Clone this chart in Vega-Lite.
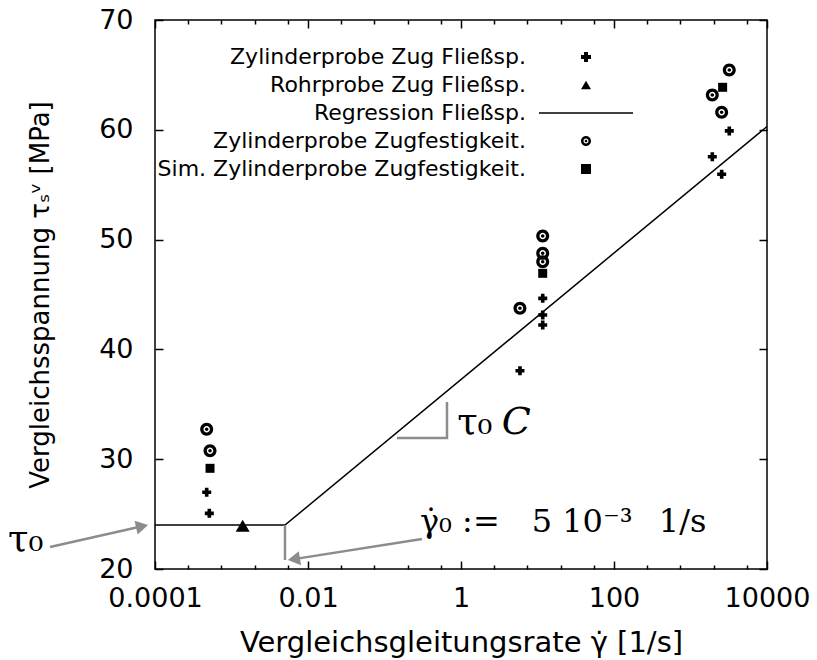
{
  "$schema": "https://vega.github.io/schema/vega-lite/v6.json",
  "width": 612,
  "height": 549,
  "autosize": {"type": "none"},
  "padding": {"left": 155, "top": 20, "right": 50, "bottom": 91},
  "background": "white",
  "config": {
    "view": {"stroke": "black", "strokeWidth": 1.5},
    "font": "DejaVu Sans",
    "axis": {
      "domain": false, "grid": false, "tickColor": "black", "tickWidth": 1.5,
      "labelFont": "DejaVu Sans", "labelFontSize": 27, "labelColor": "black",
      "titleFont": "DejaVu Sans", "titleFontWeight": "normal", "titleColor": "black", "titleFontSize": 29
    }
  },
  "datasets": {
    "pts": [
      {"series": "Zylinderprobe Zug Fließsp.", "rate": 0.000474, "stress": 26.99},
      {"series": "Zylinderprobe Zug Fließsp.", "rate": 0.000513, "stress": 25.07},
      {"series": "Zylinderprobe Zug Fließsp.", "rate": 11.7, "stress": 44.65},
      {"series": "Zylinderprobe Zug Fließsp.", "rate": 11.7, "stress": 43.13},
      {"series": "Zylinderprobe Zug Fließsp.", "rate": 11.7, "stress": 42.22},
      {"series": "Zylinderprobe Zug Fließsp.", "rate": 5.9, "stress": 38.06},
      {"series": "Zylinderprobe Zug Fließsp.", "rate": 3214, "stress": 59.9},
      {"series": "Zylinderprobe Zug Fließsp.", "rate": 1928, "stress": 57.55},
      {"series": "Zylinderprobe Zug Fließsp.", "rate": 2555, "stress": 55.95},
      {"series": "Rohrprobe Zug Fließsp.", "rate": 0.0014, "stress": 23.94},
      {"series": "Zylinderprobe Zugfestigkeit.", "rate": 0.000474, "stress": 32.72},
      {"series": "Zylinderprobe Zugfestigkeit.", "rate": 0.000524, "stress": 30.77},
      {"series": "Zylinderprobe Zugfestigkeit.", "rate": 11.7, "stress": 50.33},
      {"series": "Zylinderprobe Zugfestigkeit.", "rate": 11.7, "stress": 48.75},
      {"series": "Zylinderprobe Zugfestigkeit.", "rate": 11.7, "stress": 47.99},
      {"series": "Zylinderprobe Zugfestigkeit.", "rate": 5.9, "stress": 43.74},
      {"series": "Zylinderprobe Zugfestigkeit.", "rate": 3214, "stress": 65.45},
      {"series": "Zylinderprobe Zugfestigkeit.", "rate": 1928, "stress": 63.17},
      {"series": "Zylinderprobe Zugfestigkeit.", "rate": 2555, "stress": 61.6},
      {"series": "Sim. Zylinderprobe Zugfestigkeit.", "rate": 0.000524, "stress": 29.17},
      {"series": "Sim. Zylinderprobe Zugfestigkeit.", "rate": 11.7, "stress": 46.93},
      {"series": "Sim. Zylinderprobe Zugfestigkeit.", "rate": 2630, "stress": 63.87}
    ],
    "regression": [
      {"rate": 0.0001, "stress": 24},
      {"rate": 0.005, "stress": 24},
      {"rate": 10000, "stress": 60.3}
    ],
    "guides": [
      {"part": "vline", "i": 1, "rate": 0.005, "stress": 24},
      {"part": "vline", "i": 2, "rate": 0.005, "stress": 20.82},
      {"part": "slope", "i": 1, "rate": 0.1456, "stress": 31.93},
      {"part": "slope", "i": 2, "rate": 0.656, "stress": 31.93},
      {"part": "slope", "i": 3, "rate": 0.656, "stress": 35.2},
      {"part": "arrow1", "i": 1, "rate": 0.00000424, "stress": 22.0},
      {"part": "arrow1", "i": 2, "rate": 0.0000678, "stress": 23.89},
      {"part": "arrow2", "i": 1, "rate": 0.309, "stress": 22.73},
      {"part": "arrow2", "i": 2, "rate": 0.00654, "stress": 20.9}
    ],
    "heads": [
      {"part": "arrow1", "rate": 0.0000678, "stress": 23.89},
      {"part": "arrow2", "rate": 0.00654, "stress": 20.9}
    ],
    "notes": [
      {"label": "τ₀", "rate": 0.89, "stress": 33.3},
      {"label": "τ₀", "rate": 0.0000012, "stress": 22.64}
    ],
    "notesC": [
      {"label": "C", "rate": 3.4, "stress": 33.3}
    ],
    "notes2": [
      {"label": "γ̇₀ :=\u20035 10⁻³\u2002 1/s", "rate": 0.291, "stress": 24.28}
    ]
  },
  "resolve": {"axis": {"x": "independent", "y": "independent"}},
  "layer": [
    {
      "data": {"name": "pts"},
      "transform": [{"filter": "datum.series === 'Zylinderprobe Zug Fließsp.'"}],
      "mark": {"type": "point", "filled": true, "opacity": 1, "color": "black", "size": 81},
      "encoding": {
        "x": {
          "field": "rate", "type": "quantitative",
          "scale": {"type": "log", "domain": [0.0001, 10000], "nice": false},
          "axis": {
            "orient": "bottom", "values": [0.0001, 0.01, 1, 100, 10000], "format": "~g",
            "ticks": false, "labelPadding": 16, "labelFlush": false,
            "title": "Vergleichsgleitungsrate γ̇  [1/s]", "titlePadding": 17
          }
        },
        "y": {
          "field": "stress", "type": "quantitative",
          "scale": {"domain": [20, 70], "nice": false, "zero": false},
          "axis": {
            "orient": "left", "values": [20, 30, 40, 50, 60, 70],
            "ticks": false, "labelPadding": 22, "labelFlush": false,
            "title": "Vergleichsspannung τₛᵛ [MPa]", "titleFontSize": 26, "titlePadding": 45
          }
        },
        "shape": {
          "field": "series", "type": "nominal",
          "scale": {
            "domain": ["Zylinderprobe Zug Fließsp.", "Rohrprobe Zug Fließsp.", "Regression Fließsp.", "Zylinderprobe Zugfestigkeit.", "Sim. Zylinderprobe Zugfestigkeit."],
            "range": ["cross", "triangle-up", "M-9.4,-0.15L9.4,-0.15L9.4,0.15L-9.4,0.15Z", "M1,0A1,1 0 1,1 -1,0A1,1 0 1,1 1,0ZM0.5,0A0.5,0.5 0 1,0 -0.5,0A0.5,0.5 0 1,0 0.5,0ZM0.27,0A0.27,0.27 0 1,1 -0.27,0A0.27,0.27 0 1,1 0.27,0Z", "square"]
          },
          "legend": {
            "title": null, "orient": "none", "legendX": 420, "legendY": 26,
            "labelAlign": "right", "labelOffset": -71, "labelFontSize": 22, "labelFont": "DejaVu Sans",
            "labelColor": "black", "labelLimit": 500, "symbolSize": 100, "rowPadding": 6, "padding": 0,
            "symbolFillColor": "black", "symbolStrokeWidth": 0, "symbolOpacity": 1
          }
        }
      }
    },
    {
      "data": {"name": "pts"},
      "transform": [{"filter": "datum.series === 'Rohrprobe Zug Fließsp.'"}],
      "mark": {"type": "point", "filled": true, "opacity": 1, "color": "black", "size": 196},
      "encoding": {
        "x": {"field": "rate", "type": "quantitative",
          "axis": {"orient": "bottom", "values": [0.0001, 0.01, 1, 100, 10000], "tickSize": -8, "labels": false, "title": null}},
        "y": {"field": "stress", "type": "quantitative",
          "axis": {"orient": "left", "values": [20, 30, 40, 50, 60, 70], "tickSize": -8, "labels": false, "title": null}},
        "shape": {"field": "series", "type": "nominal"}
      }
    },
    {
      "data": {"name": "pts"},
      "transform": [{"filter": "datum.series === 'Zylinderprobe Zugfestigkeit.'"}],
      "mark": {"type": "point", "filled": true, "opacity": 1, "color": "black", "size": 169},
      "encoding": {
        "x": {"field": "rate", "type": "quantitative", "axis": null},
        "y": {"field": "stress", "type": "quantitative", "axis": null},
        "shape": {"field": "series", "type": "nominal"}
      }
    },
    {
      "data": {"name": "pts"},
      "transform": [{"filter": "datum.series === 'Sim. Zylinderprobe Zugfestigkeit.'"}],
      "mark": {"type": "point", "filled": true, "opacity": 1, "color": "black", "size": 81},
      "encoding": {
        "x": {"field": "rate", "type": "quantitative", "axis": null},
        "y": {"field": "stress", "type": "quantitative", "axis": null},
        "shape": {"field": "series", "type": "nominal"}
      }
    },
    {
      "data": {"name": "regression"},
      "mark": {"type": "line", "color": "black", "strokeWidth": 1.5},
      "encoding": {
        "x": {"field": "rate", "type": "quantitative",
          "axis": {"orient": "top", "values": [0.0001, 0.01, 1, 100, 10000], "tickSize": -8, "labels": false, "title": null}},
        "y": {"field": "stress", "type": "quantitative",
          "axis": {"orient": "right", "values": [20, 30, 40, 50, 60, 70], "tickSize": -8, "labels": false, "title": null}}
      }
    },
    {
      "data": {"name": "guides"},
      "mark": {"type": "line", "color": "#8c8c8c", "strokeWidth": 2.5},
      "encoding": {
        "x": {"field": "rate", "type": "quantitative",
          "axis": {"orient": "bottom", "values": [0.0002718, 0.0007389, 0.0020086, 0.0054598, 0.02718, 0.07389, 0.20086, 0.54598, 2.718, 7.389, 20.086, 54.598, 271.8, 738.9, 2008.6, 5459.8], "tickSize": -4, "labels": false, "title": null}},
        "y": {"field": "stress", "type": "quantitative", "axis": null},
        "detail": {"field": "part"},
        "order": {"field": "i"}
      }
    },
    {
      "data": {"name": "heads"},
      "transform": [{"filter": "datum.part === 'arrow1'"}],
      "mark": {"type": "point", "shape": "triangle-right", "filled": true, "color": "#8c8c8c", "opacity": 1, "size": 200, "angle": -12.65},
      "encoding": {
        "x": {"field": "rate", "type": "quantitative",
          "axis": {"orient": "top", "values": [0.0002718, 0.0007389, 0.0020086, 0.0054598, 0.02718, 0.07389, 0.20086, 0.54598, 2.718, 7.389, 20.086, 54.598, 271.8, 738.9, 2008.6, 5459.8], "tickSize": -4, "labels": false, "title": null}},
        "y": {"field": "stress", "type": "quantitative", "axis": null}
      }
    },
    {
      "data": {"name": "heads"},
      "transform": [{"filter": "datum.part === 'arrow2'"}],
      "mark": {"type": "point", "shape": "triangle-right", "filled": true, "color": "#8c8c8c", "opacity": 1, "size": 200, "angle": 171.1},
      "encoding": {
        "x": {"field": "rate", "type": "quantitative", "axis": null},
        "y": {"field": "stress", "type": "quantitative", "axis": null}
      }
    },
    {
      "data": {"name": "notes"},
      "mark": {"type": "text", "font": "DejaVu Serif", "fontSize": 37, "align": "left", "baseline": "middle", "color": "black"},
      "encoding": {
        "x": {"field": "rate", "type": "quantitative", "axis": null},
        "y": {"field": "stress", "type": "quantitative", "axis": null},
        "text": {"field": "label"}
      }
    },
    {
      "data": {"name": "notesC"},
      "mark": {"type": "text", "font": "DejaVu Serif", "fontSize": 38, "fontStyle": "italic", "align": "left", "baseline": "middle", "color": "black"},
      "encoding": {
        "x": {"field": "rate", "type": "quantitative", "axis": null},
        "y": {"field": "stress", "type": "quantitative", "axis": null},
        "text": {"field": "label"}
      }
    },
    {
      "data": {"name": "notes2"},
      "mark": {"type": "text", "font": "DejaVu Serif", "fontSize": 32, "align": "left", "baseline": "middle", "color": "black"},
      "encoding": {
        "x": {"field": "rate", "type": "quantitative", "axis": null},
        "y": {"field": "stress", "type": "quantitative", "axis": null},
        "text": {"field": "label"}
      }
    }
  ]
}
